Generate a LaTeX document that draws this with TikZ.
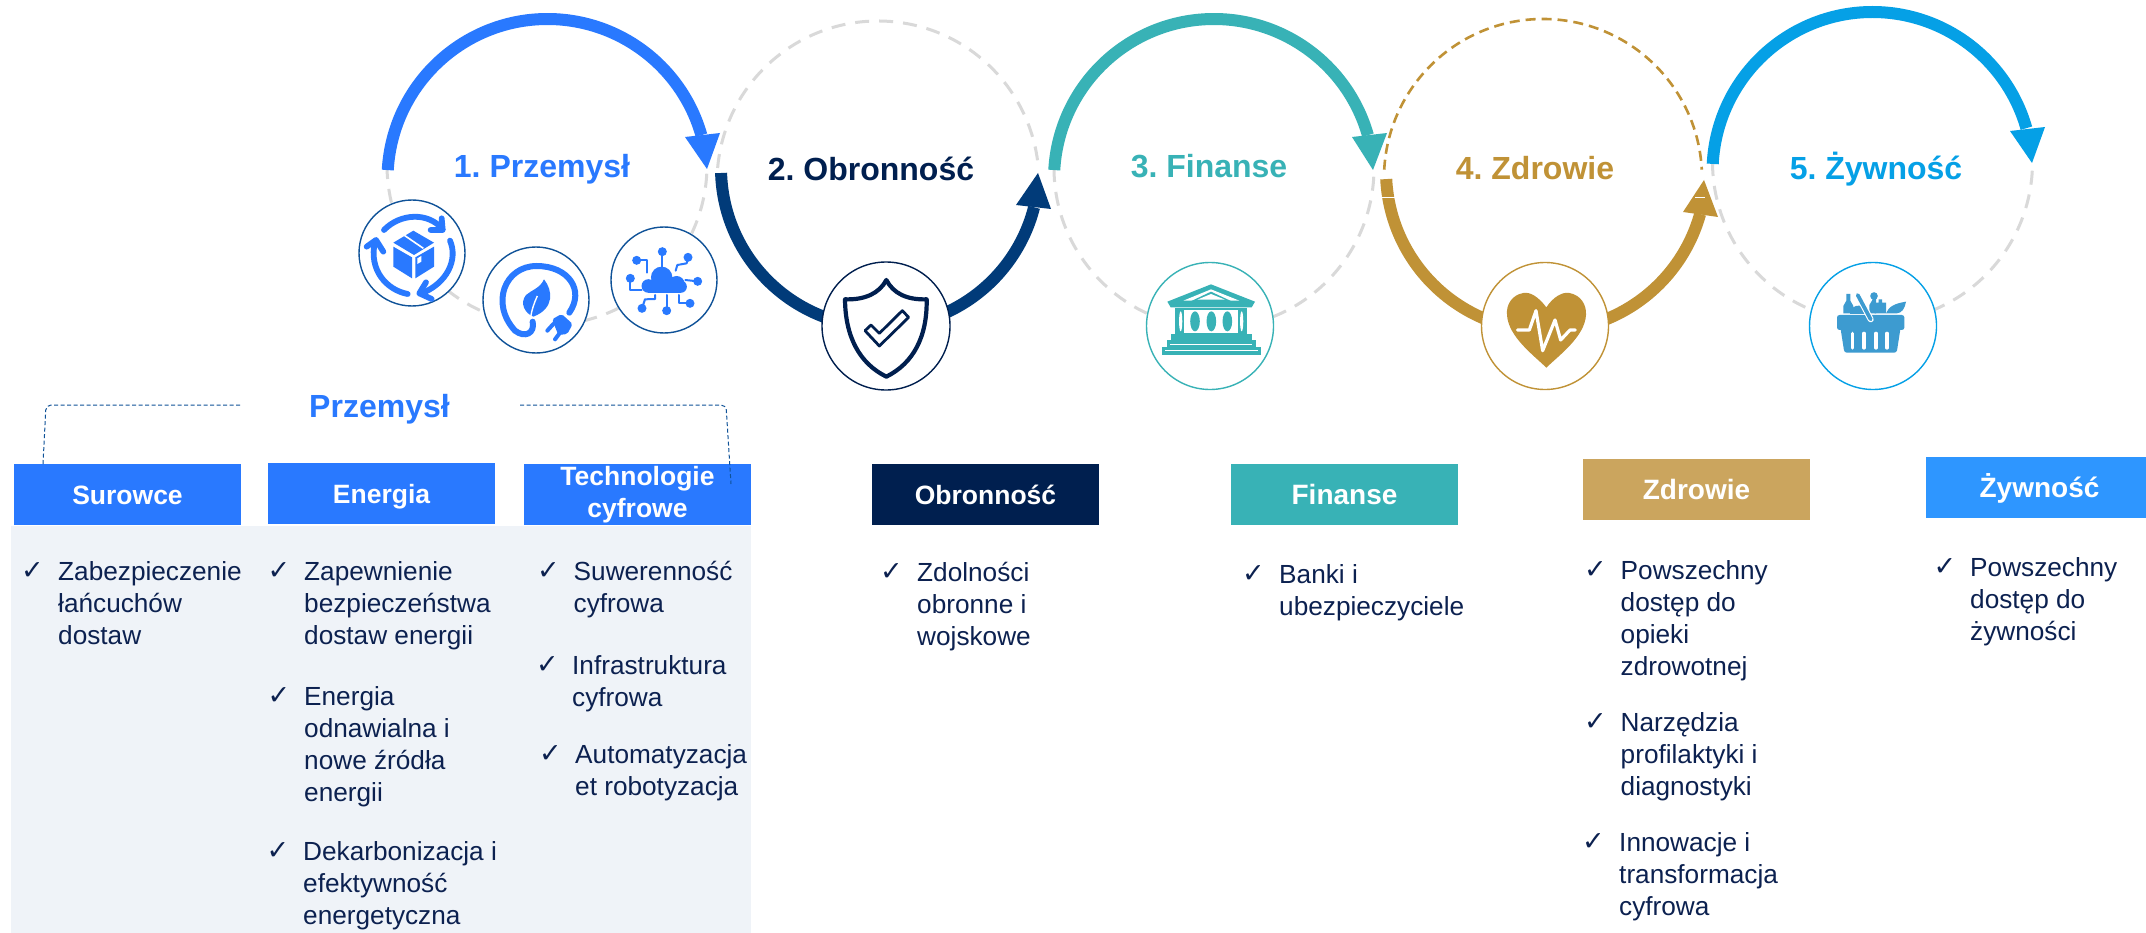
\documentclass[tikz,border=0pt]{standalone}
\usepackage{fontspec}
\setmainfont{Liberation Sans}
\newfontfamily\chkfont{DejaVu Sans}
\definecolor{cBlue}{HTML}{2979FF}
\definecolor{cNavyArc}{HTML}{013B79}
\definecolor{cNavy}{HTML}{001F4F}
\definecolor{cTeal}{HTML}{38B2B6}
\definecolor{cGold}{HTML}{C09236}
\definecolor{cGoldBox}{HTML}{CBA55E}
\definecolor{cCyan}{HTML}{05A0E6}
\definecolor{cFood}{HTML}{2E96FF}
\definecolor{cBasket}{HTML}{3D9BD0}
\definecolor{cGrey}{HTML}{D9D9D9}
\definecolor{cPanel}{HTML}{EFF3F8}
\definecolor{cRing}{HTML}{0F5298}
\definecolor{cText}{HTML}{0C2150}
\tikzset{
  band/.style={line width=12pt},
  greydash/.style={draw=cGrey,line width=3pt,dash pattern=on 14pt off 10pt},
  golddash/.style={draw=cGold,line width=2.6pt,dash pattern=on 10pt off 6pt},
  ring/.style={circle,fill=white,inner sep=0pt,outer sep=0pt,line width=1.4pt},
  bigtitle/.style={anchor=base,inner sep=0pt,font=\fontsize{32}{36}\selectfont\bfseries\frenchspacing},
  boxlab/.style={rectangle,inner sep=0pt,outer sep=0pt,text=white,text height=23pt,text depth=4pt,font=\fontsize{26.5}{32}\selectfont\bfseries},
  boxlabbig/.style={boxlab,font=\fontsize{28}{32}\selectfont\bfseries},
  itemtext/.style={anchor=base west,inner sep=0pt,text=cText,font=\fontsize{26.2}{32}\selectfont},
  chkmark/.style={anchor=base west,inner sep=0pt,text=cText,font=\fontsize{27}{28}\selectfont\chkfont},
  bracket/.style={draw=cRing,line width=1pt,dash pattern=on 4pt off 2.5pt,rounded corners=5pt},
  ic/.style={line cap=round,line join=round},
}
\newcommand{\bulletitem}[5]{%
  \node[chkmark] (chk#1) at (#2-2,-#4+1) {✓};
  \node[itemtext] (txt#1) at (#3,-#4) {\begin{tabular}[t]{@{}l@{}}#5\end{tabular}};
}
\begin{document}
\begin{tikzpicture}[x=1pt,y=1pt]
\useasboundingbox (0,0) rectangle (2146,-933);
\fill[white] (0,0) rectangle (2146,-933);
% ---- dashed guide circles
\draw[greydash] (547,-165)++(180:160) arc[start angle=180,end angle=360,radius=160pt];
\draw[greydash] (878,-182)++(175:161) arc[start angle=175,end angle=5,radius=161pt];
\draw[greydash] (1214,-168)++(180:160) arc[start angle=180,end angle=360,radius=160pt];
\draw[golddash] (1543,-178)++(177:159) arc[start angle=177,end angle=3,radius=159pt];
\draw[greydash] (1872.5,-162)++(180:160) arc[start angle=180,end angle=360,radius=160pt];
% ---- bold arcs with heads
\draw[band,draw=cBlue] (547.5,-179)++(176.8:160) arc[start angle=176.8,end angle=15.9,radius=160pt];
\fill[cBlue] (685,-137)--(707,-169)--(720,-133)--cycle;
\draw[band,draw=cNavyArc] (880,-168)++(181.8:159) arc[start angle=181.8,end angle=345.7,radius=159pt];
\fill[cNavyArc] (1016,-205)--(1038,-173)--(1051,-209)--cycle;
\draw[band,draw=cTeal] (1214,-179)++(176.8:160) arc[start angle=176.8,end angle=15.9,radius=160pt];
\fill[cTeal] (1352,-137)--(1373,-170)--(1387,-133)--cycle;
\draw[band,draw=cGold] (1546,-171)++(182.9:160) arc[start angle=182.9,end angle=344.4,radius=160pt];
\fill[cGold] (1683,-212)--(1704,-180)--(1718,-217)--cycle;
\draw[white,line width=0.8pt] (1381,-197)--(1396,-197);
\draw[white,line width=0.8pt] (1695,-197)--(1705,-197);
\draw[band,draw=cCyan] (1872.5,-172)++(177.1:160) arc[start angle=177.1,end angle=15.9,radius=160pt];
\fill[cCyan] (2010,-131)--(2032,-163)--(2045,-127)--cycle;
% ---- titles
\node[bigtitle,text=cBlue] (t1) at (542,-178) {1. Przemysł};
\node[bigtitle,text=cNavy] (t2) at (871,-181) {2. Obronność};
\node[bigtitle,text=cTeal] (t3) at (1209,-178) {3. Finanse};
\node[bigtitle,text=cGold] (t4) at (1535,-180) {4. Zdrowie};
\node[bigtitle,text=cCyan] (t5) at (1876,-180) {5. Żywność};
% ---- icon rings
\node[ring,draw=cRing,minimum size=106pt] (iA) at (412,-253) {};
\node[ring,draw=cRing,minimum size=106pt] (iB) at (536,-300) {};
\node[ring,draw=cRing,minimum size=106pt] (iC) at (664,-280) {};
\node[ring,draw=cNavy,minimum size=128pt] (i2) at (886,-326) {};
\node[ring,draw=cTeal,minimum size=127pt] (i3) at (1210,-326) {};
\node[ring,draw=cGold,minimum size=127pt] (i4) at (1545,-326) {};
\node[ring,draw=cCyan,minimum size=127pt] (i5) at (1873,-326) {};
% ---- icons of the Przemysl group (zoom coordinates, 3 units per pixel)
\begin{scope}[shift={(340,-200)},x=0.33333pt,y=-0.33333pt]
  % box and circular arrows
  \begin{scope}[ic,draw=cBlue,line width=5.8pt]
    \draw (132,90) .. controls (180,40) and (265,35) .. (308,88);
    \draw (305,55)--(308,90)--(272,90);
    \draw (330,122) .. controls (355,180) and (320,250) .. (245,280);
    \draw (258,247)--(238,280)--(275,297);
    \draw (203,282) .. controls (140,270) and (85,210) .. (105,125);
    \draw (80,140)--(108,120)--(130,155);
  \end{scope}
  \fill[cBlue] (220,92)--(282,128)--(222,165)--(160,128)--cycle;
  \draw[white,line width=1.6pt] (193,106)--(250,145);
  \fill[cBlue] (160,140)--(216,172)--(216,235)--(160,200)--cycle;
  \fill[cBlue] (226,172)--(282,140)--(282,200)--(226,235)--cycle;
  \fill[white] (232,175)--(244,168)--(244,185)--(232,192)--cycle;
  % leaf and plug
  \draw[ic,draw=cBlue,line width=6pt] (688,338) .. controls (735,270) and (685,198) .. (590,198) .. controls (495,198) and (450,310) .. (525,392) .. controls (555,415) and (585,400) .. (578,365);
  \fill[cBlue] (612,238) .. controls (638,270) and (645,325) .. (580,350) .. controls (555,340) and (538,310) .. (558,285) .. controls (575,270) and (600,265) .. (612,238) -- cycle;
  \draw[white,line width=1.4pt] (592,288) .. controls (582,310) and (575,330) .. (572,352);
  \draw[ic,draw=cBlue,line width=4pt] (640,372)--(622,392);
  \draw[ic,draw=cBlue,line width=4pt] (660,398)--(645,418);
  \fill[cBlue,rounded corners=2pt] (636,358)--(665,342)--(698,372)--(682,402)--(655,405)--cycle;
  % cloud network
  \fill[cBlue] (925,258) circle[radius=6.8pt] (965,232) circle[radius=10.7pt] (1010,252) circle[radius=8pt] (1022,260) circle[radius=6.2pt];
  \fill[cBlue] (925,250) rectangle (1022,278);
  \begin{scope}[ic,draw=cBlue,line width=2pt]
    \draw (967,155)--(967,200);
    \draw (890,181)--(920,181)--(920,218);
    \draw (1044,172)--(1040,190)--(1012,195)--(1007,212);
    \draw (1036,240)--(1073,244);
    \draw (871,235)--(871,270)--(905,270);
    \draw (980,285)--(980,332);
    \draw (906,325)--(915,298)--(945,297)--(945,285);
    \draw (1050,310)--(1018,310)--(1018,285);
  \end{scope}
  \fill[cBlue] (967,155) circle[radius=4.5pt] (890,181) circle[radius=4.5pt] (1044,172) circle[radius=4.5pt] (1073,244) circle[radius=4.5pt] (871,235) circle[radius=4.5pt] (980,332) circle[radius=4.5pt] (906,325) circle[radius=4.5pt] (1050,310) circle[radius=4.5pt];
\end{scope}
% ---- shield
\begin{scope}[shift={(800,-240)},x=0.33333pt,y=-0.33333pt]
  \draw[ic,draw=cNavy,line width=4.2pt] (259,120) .. controls (280,160) and (320,180) .. (380,178) .. controls (382,290) and (340,370) .. (259,410) .. controls (178,370) and (136,290) .. (135,178) .. controls (195,180) and (238,160) .. (259,120) -- cycle;
  \draw[ic,draw=cNavy,line width=2.8pt] (195,272)--(213,255)--(238,280)--(307,212)--(326,232)--(238,318)--cycle;
\end{scope}
% ---- temple
\begin{scope}[shift={(1130,-250)},x=0.33333pt,y=-0.33333pt]
  \fill[cTeal] (112,155)--(243,103)--(375,155)--(365,172)--(122,172)--cycle;
  \fill[white] (160,152)--(243,118)--(328,152)--cycle;
  \fill[cTeal] (180,155)--(243,125)--(307,155)--(300,160)--(186,160)--cycle;
  \fill[white] (202,149)--(243,132)--(285,149)--cycle;
  \fill[cTeal] (135,175) rectangle (350,254);
  \fill[white] (162,180) rectangle (325,248);
  \fill[cTeal] (195,214) ellipse[x radius=4.8pt,y radius=10pt] (244,214) ellipse[x radius=4.8pt,y radius=10pt] (292,214) ellipse[x radius=4.8pt,y radius=10pt];
  \fill[white] (152,214) ellipse[x radius=1.6pt,y radius=10pt] (335,214) ellipse[x radius=1.6pt,y radius=10pt];
  \fill[cTeal] (122,252) rectangle (365,272);
  \fill[cTeal] (110,270) rectangle (378,294);
  \fill[cTeal] (95,292) rectangle (392,316);
  \draw[white,line width=0.8pt] (120,283)--(366,283);
  \draw[white,line width=0.8pt] (106,302)--(384,302);
\end{scope}
% ---- heart
\begin{scope}[shift={(1470,-250)},x=0.33333pt,y=-0.33333pt]
  \fill[cGold] (229,172) .. controls (205,140) and (180,125) .. (160,129) .. controls (125,135) and (108,165) .. (111,195) .. controls (115,260) and (190,315) .. (229,353) .. controls (268,315) and (344,260) .. (348,195) .. controls (350,165) and (333,135) .. (298,129) .. controls (278,125) and (250,140) .. (229,172) -- cycle;
  \draw[ic,draw=white,line width=3.2pt] (142,240)--(178,240)--(198,182)--(218,302)--(255,210)--(272,270)--(300,240)--(316,240);
\end{scope}
% ---- basket
\begin{scope}[shift={(1800,-250)},x=0.33333pt,y=-0.33333pt]
  \fill[cBasket] (130,190)--(130,168)--(139,152)--(139,132)--(151,132)--(151,152)--(160,168)--(160,190)--cycle;
  \fill[cBasket] (150,192) .. controls (150,175) and (165,165) .. (178,167) .. controls (190,170) and (196,180) .. (196,192) -- cycle;
  \fill[cBasket] (222,138) circle[radius=3.8pt];
  \fill[cBasket] (208,190)--(208,165)--(217,150)--(217,140)--(228,140)--(228,155)--(228,190)--cycle;
  \fill[cBasket] (224,190)--(224,158)--(236,158)--(236,148)--(246,148)--(246,158)--(258,158)--(258,190)--cycle;
  \fill[cBasket] (258,190) .. controls (265,170) and (285,160) .. (318,155) .. controls (315,175) and (305,190) .. (290,190) -- cycle;
  \fill[cBasket,rounded corners=2.5pt] (111,195) rectangle (313,240);
  \fill[cBasket,rounded corners=2.5pt] (120,225)--(303,225)--(290,308)--(133,308)--cycle;
  \draw[white,line width=6pt,line cap=round] (173,135)--(212,208);
  \draw[cBasket,line width=3.8pt,line cap=round] (173,135)--(212,208);
  \foreach \sx in {157,192,228,261} {\draw[white,line width=3.2pt,line cap=round] (\sx,250)--(\sx,294);}
\end{scope}
% ---- Przemysl block
\fill[cPanel] (11,-526) rectangle (751,-933);
\node[bigtitle,text=cBlue] (przem) at (379.5,-417) {Przemysł};
\node[boxlab,fill=cBlue,minimum width=227pt,minimum height=61pt] (bSur) at (127.5,-494.5) {Surowce};
\node[boxlab,fill=cBlue,minimum width=227pt,minimum height=61pt] (bEne) at (381.5,-493.5) {Energia};
\node[rectangle,inner sep=0pt,outer sep=0pt,text=white,fill=cBlue,minimum width=227pt,minimum height=61pt,align=center,font=\fontsize{26.5}{31.5}\selectfont\bfseries] (bTec) at (637.5,-494.5) {Technologie\\cyfrowe};
\coordinate (brA) at (43,-464);
\coordinate (brB) at (46,-405);
\coordinate (brC) at (241,-405);
\coordinate (brD) at (520,-405);
\coordinate (brE) at (726,-405);
\coordinate (brF) at (731,-484);
\draw[bracket] (brA)--(brB)--(brC);
\draw[bracket] (brD)--(brE)--(brF);
\bulletitem{a}{23}{58}{580}{Zabezpieczenie\\łańcuchów\\dostaw}
\bulletitem{b}{269.5}{304}{580}{Zapewnienie\\bezpieczeństwa\\dostaw energii}
\bulletitem{c}{269.5}{304}{705}{Energia\\odnawialna i\\nowe źródła\\energii}
\bulletitem{d}{268.5}{303}{860}{Dekarbonizacja i\\efektywność\\energetyczna}
\bulletitem{e}{539}{573.5}{580}{Suwerenność\\cyfrowa}
\bulletitem{f}{538}{572}{674}{Infrastruktura\\cyfrowa}
\bulletitem{g}{541}{575}{763}{Automatyzacja\\et robotyzacja}
% ---- other blocks
\node[boxlab,fill=cNavy,minimum width=227pt,minimum height=61pt] (bObr) at (985.5,-494.5) {Obronność};
\node[boxlabbig,fill=cTeal,minimum width=227pt,minimum height=61pt] (bFin) at (1344.5,-494.5) {Finanse};
\node[boxlabbig,fill=cGoldBox,minimum width=227pt,minimum height=61pt] (bZdr) at (1696.5,-489.5) {Zdrowie};
\node[boxlabbig,fill=cFood,minimum width=220pt,minimum height=61pt] (bZyw) at (2036,-487.5) {\hspace{7pt}Żywność};
\bulletitem{h}{882}{917}{581}{Zdolności\\obronne i\\wojskowe}
\bulletitem{i}{1244}{1279}{583}{Banki i\\ubezpieczyciele}
\bulletitem{j}{1586}{1620.5}{579}{Powszechny\\dostęp do\\opieki\\zdrowotnej}
\bulletitem{k}{1586}{1620.5}{731}{Narzędzia\\profilaktyki i\\diagnostyki}
\bulletitem{l}{1584}{1619}{851}{Innowacje i\\transformacja\\cyfrowa}
\bulletitem{m}{1935.5}{1970}{576}{Powszechny\\dostęp do\\żywności}
\end{tikzpicture}
\end{document}
